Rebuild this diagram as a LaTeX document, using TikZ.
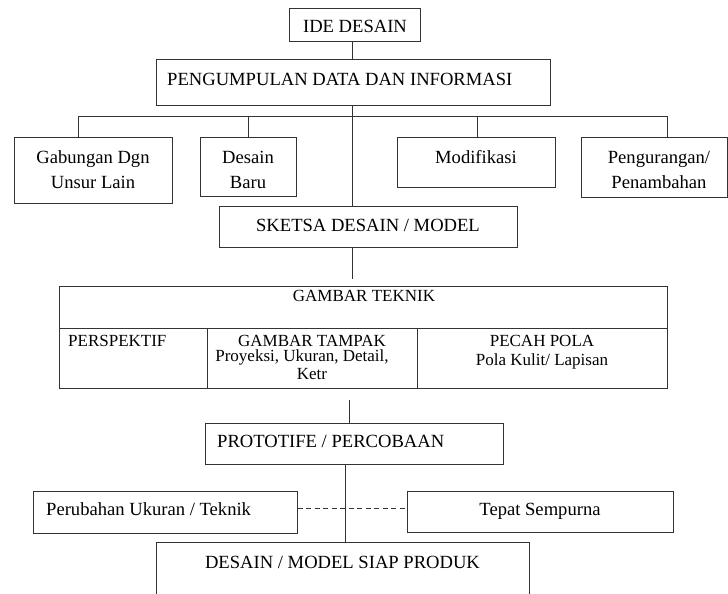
\documentclass[tikz,border=0pt]{standalone}
\usepackage{fontspec}
\setmainfont{Liberation Serif}
\begin{document}
\begin{tikzpicture}[x=1pt,y=-1pt,
  box/.style={draw=black!80, line width=0.9pt, anchor=north west, inner sep=0pt},
  lbl/.style={anchor=base, inner sep=0pt, font=\fontsize{18.6}{22}\selectfont},
  tlbl/.style={anchor=base, inner sep=0pt, font=\fontsize{17}{15}\selectfont},
  conn/.style={draw=black!80, line width=0.9pt},
  dconn/.style={conn, dash pattern=on 5pt off 3.5pt}]
\useasboundingbox (0,0) rectangle (728,594);
\clip (0,0) rectangle (728,594);
% boxes
\node[box, minimum width=131pt, minimum height=33pt] (ide) at (289,8) {};
\node[box, minimum width=394pt, minimum height=46pt] (pdi) at (156,59) {};
\node[box, minimum width=158pt, minimum height=66pt] (gab) at (14,137) {};
\node[box, minimum width=96pt, minimum height=59pt] (dbr) at (200,137) {};
\node[box, minimum width=158pt, minimum height=50pt] (mod) at (397,137) {};
\node[box, minimum width=146pt, minimum height=60pt] (pen) at (581,137) {};
\node[box, minimum width=298pt, minimum height=41pt] (skt) at (219,206) {};
\node[box, minimum width=608pt, minimum height=42pt] (tgt) at (59,286) {};
\node[box, minimum width=148pt, minimum height=60pt] (tc1) at (59,328) {};
\node[box, minimum width=210pt, minimum height=60pt] (tc2) at (207,328) {};
\node[box, minimum width=250pt, minimum height=60pt] (tc3) at (417,328) {};
\node[box, minimum width=298pt, minimum height=41pt] (pro) at (205,423) {};
\node[box, minimum width=264pt, minimum height=42pt] (pub) at (33,491) {};
\node[box, minimum width=266pt, minimum height=41pt] (tps) at (407,491) {};
\node[box, minimum width=373pt, minimum height=70pt] (dsn) at (156,542) {};
% texts
\node[lbl] (tide) at (355,33) {IDE DESAIN};
\node[lbl, anchor=base west] (tpdi) at (167,85) {PENGUMPULAN DATA DAN INFORMASI};
\node[lbl] (tgab1) at (93,163) {Gabungan Dgn};
\node[lbl] (tgab2) at (93,188) {Unsur Lain};
\node[lbl] (tdbr1) at (248,163) {Desain};
\node[lbl] (tdbr2) at (248,188) {Baru};
\node[lbl] (tmod) at (476,163) {Modifikasi};
\node[lbl] (tpen1) at (659,163) {Pengurangan/};
\node[lbl] (tpen2) at (659,188) {Penambahan};
\node[lbl] (tskt) at (368,231) {SKETSA DESAIN / MODEL};
\node[tlbl] (ttgt) at (364,301) {GAMBAR TEKNIK};
\node[tlbl, anchor=base west] (ttc1) at (68,346) {PERSPEKTIF};
\node[tlbl] (ttc2a) at (312,346) {GAMBAR TAMPAK};
\node[tlbl] (ttc2b) at (302,361.5) {Proyeksi, Ukuran, Detail,};
\node[tlbl] (ttc2c) at (312,379) {Ketr};
\node[tlbl] (ttc3a) at (542,346) {PECAH POLA};
\node[tlbl] (ttc3b) at (542,365) {Pola Kulit/ Lapisan};
\node[lbl, anchor=base west] (tpro) at (217,447) {PROTOTIFE / PERCOBAAN};
\node[lbl, anchor=base west] (tpub) at (46,515) {Perubahan Ukuran / Teknik};
\node[lbl] (ttps) at (540,515) {Tepat Sempurna};
\node[lbl] (tdsn) at (342.5,568) {DESAIN / MODEL SIAP PRODUK};
% connectors
\coordinate (sp) at (352,116);
\draw[conn] (ide.south -| sp) -- (pdi.north -| sp);
\draw[conn] (pdi.south -| sp) -- (skt.north -| sp);
\coordinate (bL) at (78,116);
\coordinate (b2) at (248,116);
\coordinate (b3) at (477,116);
\coordinate (bR) at (667,116);
\draw[conn] (bL) -- (bR);
\draw[conn] (bL) -- (gab.north -| bL);
\draw[conn] (b2) -- (dbr.north -| b2);
\draw[conn] (b3) -- (mod.north -| b3);
\draw[conn] (bR) -- (pen.north -| bR);
\coordinate (s2) at (352,279);
\draw[conn] (skt.south -| s2) -- (s2);
\coordinate (s3) at (349,400);
\draw[conn] (s3) -- (pro.north -| s3);
\coordinate (s4) at (345,480);
\draw[conn] (pro.south -| s4) -- (dsn.north -| s4);
\coordinate (dy) at (300,508);
\draw[dconn] (pub.east |- dy) -- (tps.west |- dy);
\end{tikzpicture}
\end{document}
